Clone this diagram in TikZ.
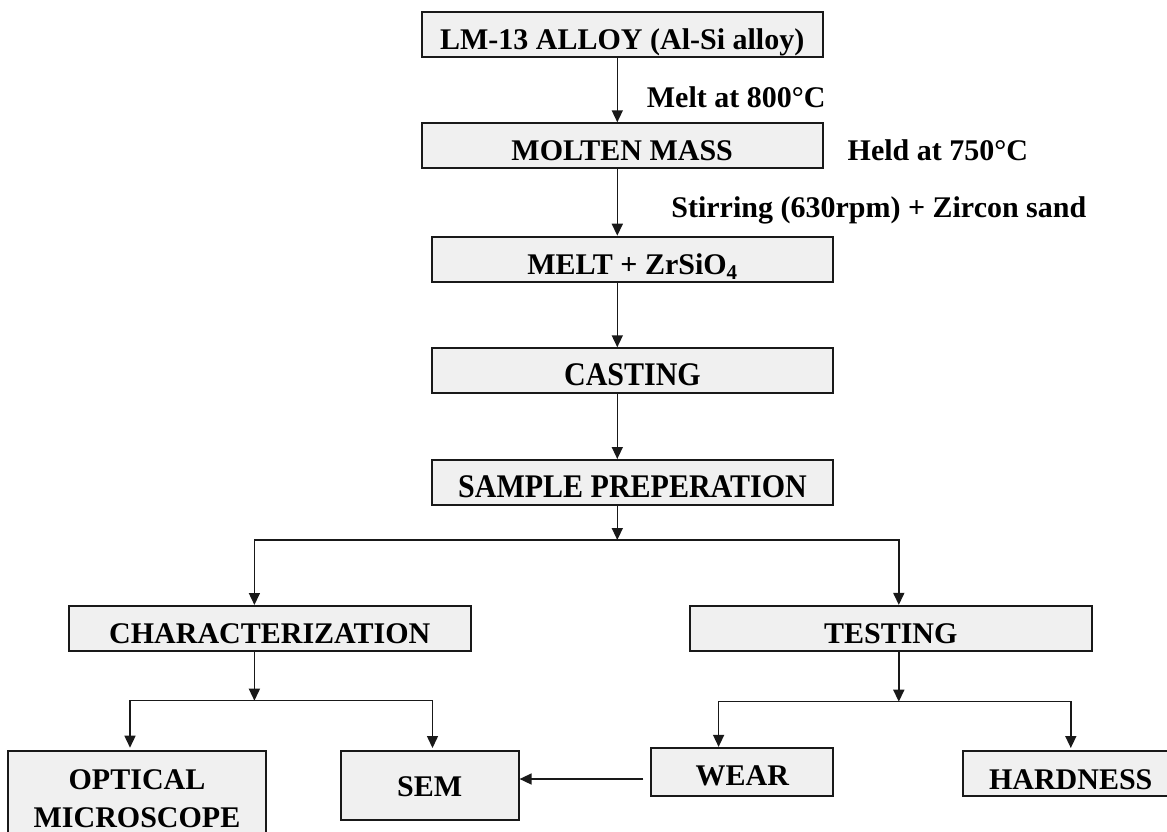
\documentclass[tikz,border=0pt]{standalone}
\usepackage{fontspec}
\setmainfont{Liberation Serif}
\usetikzlibrary{arrows.meta}
\definecolor{boxfill}{RGB}{240,240,240}
\definecolor{linec}{RGB}{25,25,25}
\newcommand\bigf{\fontsize{30}{38.5}\selectfont\bfseries}
\newcommand\tallf[1]{\scalebox{1}[1.1]{#1}}
\tikzset{
  box/.style={draw=linec, line width=2pt, fill=boxfill, inner sep=0pt,
    minimum height=45pt, minimum width=401pt, text height=30pt, text depth=0pt, font=\bigf},
  con/.style={draw=linec, line width=1.5pt},
  arr/.style={con, -{Triangle[length=12pt,width=11pt]}},
  lab/.style={inner sep=0pt, anchor=base west, font=\bigf}
}
\begin{document}
\begin{tikzpicture}[x=1pt,y=-1pt]
\useasboundingbox (0,0) rectangle (1167,832);
\clip (0,0) rectangle (1167,832);
% boxes
\node[box] (lm) at (622.2,34.2) {LM-13 ALLOY (Al-Si alloy)};
\node[box] (mm) at (622.2,145.8) {MOLTEN MASS};
\node[box, minimum width=401.6pt] (mz) at (632.5,259.2) {MELT + ZrSiO\textsubscript{4}};
\node[box, minimum width=401.6pt] (ca) at (632.5,370.8) {\tallf{CASTING}};
\node[box, minimum width=401.6pt] (sp) at (632.5,482.5) {\tallf{SAMPLE PREPERATION}};
\node[box, minimum width=401.8pt] (ch) at (269.8,628.5) {CHARACTERIZATION};
\node[box, minimum width=402pt] (te) at (890.8,628.4) {TESTING};
\node[box, minimum width=257.4pt, minimum height=96.2pt, text height=, text depth=, align=center] (op) at (137,798.8) {OPTICAL\\MICROSCOPE};
\node[box, minimum width=178pt, minimum height=69pt, text height=22.4pt] (sem) at (429.6,785.5) {SEM};
\node[box, minimum width=182pt, minimum height=48pt, text height=26.2pt] (we) at (742.4,771.9) {WEAR};
\node[box, minimum width=214.5pt, minimum height=45pt, text height=31pt] (ha) at (1070.7,773.5) {HARDNESS};
% labels
\node[lab] (mlab) at (646.7,107.3) {Melt at 800°C};
\node[lab] (hlab) at (847.5,160.7) {Held at 750°C};
\node[lab] (slab) at (671.2,217.5) {Stirring (630rpm) + Zircon sand};
% main spine
\coordinate (mx) at (617.3,0);
\draw[arr] (lm.south -| mx) -- (mm.north -| mx);
\draw[arr] (mm.south -| mx) -- (mz.north -| mx);
\draw[arr] (mz.south -| mx) -- (ca.north -| mx);
\draw[arr] (ca.south -| mx) -- (sp.north -| mx);
% first branching
\coordinate (j1) at (617.3,540);
\coordinate (j1l) at (254.4,540);
\coordinate (j1r) at (898.8,540);
\draw[arr] (sp.south -| mx) -- (j1);
\draw[arr] (j1) -- (j1l) -- (j1l |- ch.north);
\draw[arr] (j1) -- (j1r) -- (j1r |- te.north);
% characterization branching
\coordinate (j2) at (254.4,700.7);
\coordinate (j2l) at (130,700.7);
\coordinate (j2r) at (432.5,700.7);
\draw[arr] (ch.south -| j2) -- (j2);
\draw[arr, shorten >=2pt] (j2) -- (j2l) -- (j2l |- op.north);
\draw[arr, shorten >=2pt] (j2) -- (j2r) -- (j2r |- sem.north);
% testing branching
\coordinate (j3) at (898.8,701.7);
\coordinate (j3l) at (718.6,701.7);
\coordinate (j3r) at (1070.8,701.7);
\draw[arr] (te.south -| j3) -- (j3);
\draw[arr] (j3) -- (j3l) -- (j3l |- we.north);
\draw[arr, shorten >=2pt] (j3) -- (j3r) -- (j3r |- ha.north);
% wear to sem
\coordinate (w0) at (643.4,779);
\draw[arr] (w0) -- (w0 -| sem.east);
\end{tikzpicture}
\end{document}
